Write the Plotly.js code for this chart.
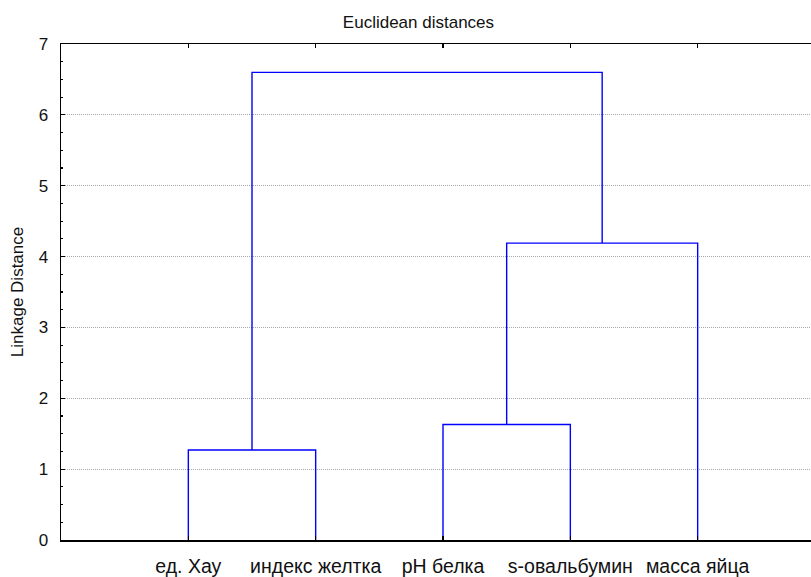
<!DOCTYPE html>
<html>
<head>
<meta charset="utf-8">
<script src="https://cdn.plot.ly/plotly-3.0.1.min.js"></script>
<style>html,body{margin:0;padding:0;background:#fff;}</style>
</head>
<body>
<div id="chart" style="width:811px;height:577px;"></div>
<script>
// Leaf labels in dendrogram order
const leafLabels = ["ед. Хау", "индекс желтка", "pH белка", "s-овальбумин", "масса яйца"];
// Merges: [left child, right child] (0..4 = leaves, 5+ = previous merges)
const mergeLeft  = [0, 2, 6, 5];
const mergeRight = [1, 3, 4, 7];
// Linkage distances of each merge
const mergeHeights = [1.27, 1.63, 4.19, 6.60];

const leafPos = leafLabels.map((_, i) => i + 1);
const nodeX = leafPos.slice();
const nodeY = leafPos.map(() => 0);
const xs = [], ys = [];
for (let k = 0; k < mergeHeights.length; k++) {
  const a = mergeLeft[k], b = mergeRight[k], h = mergeHeights[k];
  xs.push(nodeX[a], nodeX[a], nodeX[b], nodeX[b], null);
  ys.push(nodeY[a], h, h, nodeY[b], null);
  nodeX.push((nodeX[a] + nodeX[b]) / 2);
  nodeY.push(h);
}

const trace = {
  x: xs, y: ys, mode: 'lines', type: 'scatter',
  line: {color: '#0000ff', width: 1.4},
  hoverinfo: 'skip', showlegend: false, connectgaps: false
};

const fontFam = '"Liberation Sans", Arial, sans-serif';
const layout = {
  width: 811, height: 577,
  margin: {l: 61, r: 0, t: 44, b: 37, pad: 0},
  paper_bgcolor: '#fff', plot_bgcolor: '#fff',
  font: {family: fontFam, color: '#111', size: 17},
  title: {text: 'Euclidean distances', font: {size: 17, family: fontFam, color: '#111'},
          x: 0.516, xanchor: 'center', xref: 'container', y: 0.962, yanchor: 'middle'},
  xaxis: {
    range: [0, 5.89], tickvals: leafPos, ticktext: leafLabels,
    ticks: 'inside', ticklen: 4, tickwidth: 1.2, tickcolor: '#000',
    showline: true, linecolor: '#000', linewidth: 1.5, mirror: 'ticks',
    showgrid: false, zeroline: false, tickfont: {size: 19.5, family: fontFam},
    ticklabelstandoff: 8
  },
  yaxis: {
    range: [0, 7], dtick: 1, tick0: 0,
    ticks: 'inside', ticklen: 4, tickwidth: 1.2, tickcolor: '#000',
    showline: true, linecolor: '#000', linewidth: 1.5,
    showgrid: true, gridcolor: '#a8a8a8', griddash: '1px,1px', gridwidth: 1,
    zeroline: false, tickfont: {size: 17, family: fontFam},
    ticklabelstandoff: 8,
    minor: {dtick: 0.25, tick0: 0, ticks: 'inside', ticklen: 2, tickcolor: '#000', showgrid: false},
    title: {text: 'Linkage Distance', font: {size: 17, family: fontFam}, standoff: 10}
  }
};

Plotly.newPlot('chart', [trace], layout, {staticPlot: true, displayModeBar: false});
</script>
</body>
</html>
